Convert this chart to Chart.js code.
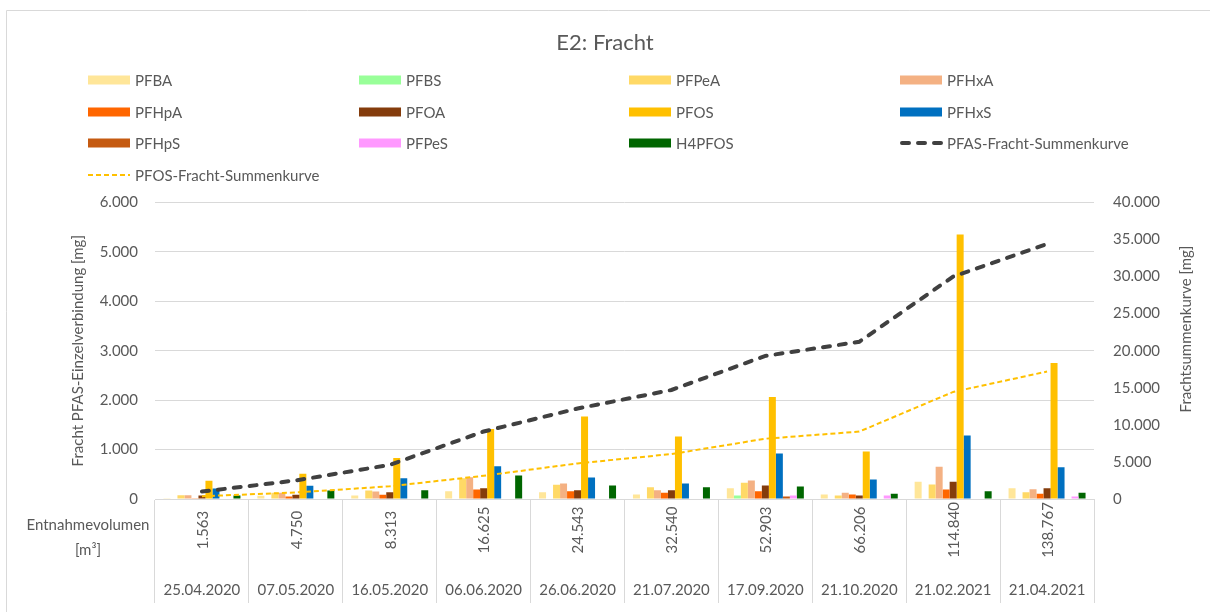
<!DOCTYPE html>
<html>
  <head>
    <title>E2: Fracht</title>
    <script src="https://cdn.jsdelivr.net/npm/chart.js"></script>
    <style>
      body { margin: 0; background: #fff; }
    </style>
  </head>
  <body>
    <canvas id="frachtChart" width="1210" height="612"></canvas>

    <script>
      // Probenahmen
      const dates = ["25.04.2020", "07.05.2020", "16.05.2020", "06.06.2020", "26.06.2020",
                     "21.07.2020", "17.09.2020", "21.10.2020", "21.02.2021", "21.04.2021"];
      const volumes = ["1.563", "4.750", "8.313", "16.625", "24.543",
                       "32.540", "52.903", "66.206", "114.840", "138.767"];

      // Fracht je Einzelverbindung [mg]
      const pfba   = [15, 65, 70, 157, 137, 90, 218, 90, 347, 218];
      const pfbs   = [0, 0, 0, 0, 0, 0, 70, 0, 0, 0];
      const pfpea  = [77, 125, 170, 420, 287, 238, 327, 70, 293, 137];
      const pfhxa  = [77, 125, 150, 440, 313, 178, 373, 125, 650, 198];
      const pfhpa  = [15, 50, 85, 190, 157, 125, 157, 90, 192, 105];
      const pfoa   = [70, 85, 137, 218, 178, 178, 273, 70, 347, 218];
      const pfos   = [370, 510, 830, 1418, 1667, 1263, 2065, 960, 5350, 2750];
      const pfhxs  = [210, 270, 420, 663, 434, 313, 919, 394, 1283, 643];
      const pfhps  = [0, 0, 0, 0, 0, 0, 50, 0, 0, 0];
      const pfpes  = [0, 0, 0, 0, 0, 0, 70, 70, 0, 50];
      const h4pfos = [70, 170, 178, 475, 273, 238, 253, 105, 157, 125];

      // Summenkurven [mg]
      const pfasSumme = [1000, 2500, 4600, 9100, 12200, 14700, 19300, 21200, 30000, 34400];
      const pfosSumme = [370, 880, 1710, 3130, 4800, 6060, 8130, 9090, 14440, 17190];

      // Achsen
      const leftTicks = [0, 1000, 2000, 3000, 4000, 5000, 6000];
      const rightTicks = [0, 5000, 10000, 15000, 20000, 25000, 30000, 35000, 40000];

      const FONT = "Lato";
      const TEXT = "#595959";
      const GRID = "#d9d9d9";

      function de(v) {
        return String(v).replace(/\B(?=(\d{3})+(?!\d))/g, ".");
      }

      function bar(label, data, color) {
        return { type: "bar", label: label, data: data, backgroundColor: color, yAxisID: "y", order: 2 };
      }

      const datasets = [
        bar("PFBA", pfba, "#FFE699"),
        bar("PFBS", pfbs, "#99FF99"),
        bar("PFPeA", pfpea, "#FFD966"),
        bar("PFHxA", pfhxa, "#F4B183"),
        bar("PFHpA", pfhpa, "#FF6600"),
        bar("PFOA", pfoa, "#843C0C"),
        bar("PFOS", pfos, "#FFC000"),
        bar("PFHxS", pfhxs, "#0070C0"),
        bar("PFHpS", pfhps, "#C55A11"),
        bar("PFPeS", pfpes, "#FF99FF"),
        bar("H4PFOS", h4pfos, "#006600"),
        {
          type: "line", label: "PFAS-Fracht-Summenkurve", data: pfasSumme, yAxisID: "y1", order: 0,
          borderColor: "#404040", borderWidth: 4, borderDash: [7, 9], borderCapStyle: "round",
          pointRadius: 0, fill: false, tension: 0,
        },
        {
          type: "line", label: "PFOS-Fracht-Summenkurve", data: pfosSumme, yAxisID: "y1", order: 1,
          borderColor: "#FFC000", borderWidth: 2, borderDash: [5, 3],
          pointRadius: 0, fill: false, tension: 0,
        },
      ];

      // Rahmen, Legende, rechter Achsentitel und zweizeilige Kategorienbeschriftung
      const extras = {
        id: "extras",
        afterDraw(chart) {
          const ctx = chart.ctx;
          ctx.save();

          // Rahmen
          ctx.strokeStyle = GRID;
          ctx.lineWidth = 1;
          ctx.beginPath();
          ctx.moveTo(6.5, 612);
          ctx.lineTo(6.5, 10.5);
          ctx.lineTo(1210, 10.5);
          ctx.stroke();

          // Legende
          const colX = [88, 359, 629, 900];
          const rowY = [80, 112, 143, 175];
          ctx.font = "15px " + FONT;
          ctx.textBaseline = "middle";
          ctx.textAlign = "left";
          chart.data.datasets.forEach((ds, i) => {
            const x = colX[i % 4];
            const y = rowY[Math.floor(i / 4)];
            if (ds.type === "line") {
              ctx.save();
              ctx.strokeStyle = ds.borderColor;
              ctx.lineWidth = ds.borderWidth;
              ctx.setLineDash(ds.borderDash);
              ctx.lineCap = ds.borderCapStyle || "butt";
              ctx.beginPath();
              ctx.moveTo(x + (ds.borderWidth > 2 ? 2 : 0), y);
              ctx.lineTo(x + 42, y);
              ctx.stroke();
              ctx.restore();
            } else {
              ctx.fillStyle = ds.backgroundColor;
              ctx.fillRect(x, y - 4.5, 42, 9);
            }
            ctx.fillStyle = TEXT;
            ctx.fillText(ds.label, x + 47, y + 1);
          });

          ctx.fillStyle = TEXT;
          ctx.font = "15px " + FONT;
          ctx.textAlign = "center";
          ctx.textBaseline = "middle";

          // rechter Achsentitel, von unten nach oben
          ctx.save();
          ctx.translate(1186, 329);
          ctx.rotate(-Math.PI / 2);
          ctx.fillText("Frachtsummenkurve [mg]", 0, 0);
          ctx.restore();

          // Kategorien: Volumen (gedreht) und Datum
          const xs = chart.scales.x;
          volumes.forEach((v, i) => {
            const cx = xs.getPixelForValue(i);
            ctx.save();
            ctx.translate(cx + 1, 530);
            ctx.rotate(-Math.PI / 2);
            ctx.fillText(v, 0, 0);
            ctx.restore();
          });
          dates.forEach((d, i) => {
            ctx.fillText(d, xs.getPixelForValue(i), 590);
          });
          ctx.fillText("Entnahmevolumen", 88, 525);
          ctx.fillText("[m³]", 88, 550);

          ctx.restore();
        },
      };

      const ctx = document.getElementById("frachtChart").getContext("2d");
      new Chart(ctx, {
        type: "bar",
        data: { labels: dates, datasets: datasets },
        plugins: [extras],
        options: {
          responsive: false,
          animation: false,
          devicePixelRatio: 1,
          layout: { padding: 0 },
          datasets: {
            bar: { barPercentage: 1.0, categoryPercentage: 0.82 },
          },
          plugins: {
            legend: { display: false },
            tooltip: { enabled: false },
            title: {
              display: true,
              text: "E2: Fracht",
              color: TEXT,
              font: { family: FONT, size: 22, weight: "normal" },
              padding: { top: 30, bottom: 146 },
            },
          },
          scales: {
            x: {
              grid: {
                display: true,
                drawOnChartArea: false,
                drawTicks: true,
                tickLength: 104,
                color: GRID,
                offset: true,
              },
              border: { display: true, color: GRID },
              ticks: { display: false },
              afterFit(s) { s.height = 113; },
            },
            y: {
              position: "left",
              min: 0,
              max: 6000,
              afterBuildTicks(s) { s.ticks = leftTicks.map((v) => ({ value: v })); },
              ticks: {
                color: TEXT,
                font: { family: FONT, size: 15 },
                padding: 17,
                callback: (v) => de(v),
              },
              grid: { color: GRID, drawTicks: false },
              border: { display: false },
              title: {
                display: true,
                text: "Fracht PFAS-Einzelverbindung [mg]",
                color: TEXT,
                font: { family: FONT, size: 15 },
                padding: { top: 69, bottom: 0 },
              },
              afterFit(s) { s.width = 155; },
            },
            y1: {
              position: "right",
              min: 0,
              max: 40000,
              afterBuildTicks(s) { s.ticks = rightTicks.map((v) => ({ value: v })); },
              ticks: {
                color: TEXT,
                font: { family: FONT, size: 15 },
                padding: 19,
                callback: (v) => de(v),
              },
              grid: { drawOnChartArea: false, drawTicks: false },
              border: { display: false },
              afterFit(s) { s.width = 116; },
            },
          },
        },
      });
    </script>
  </body>
</html>
